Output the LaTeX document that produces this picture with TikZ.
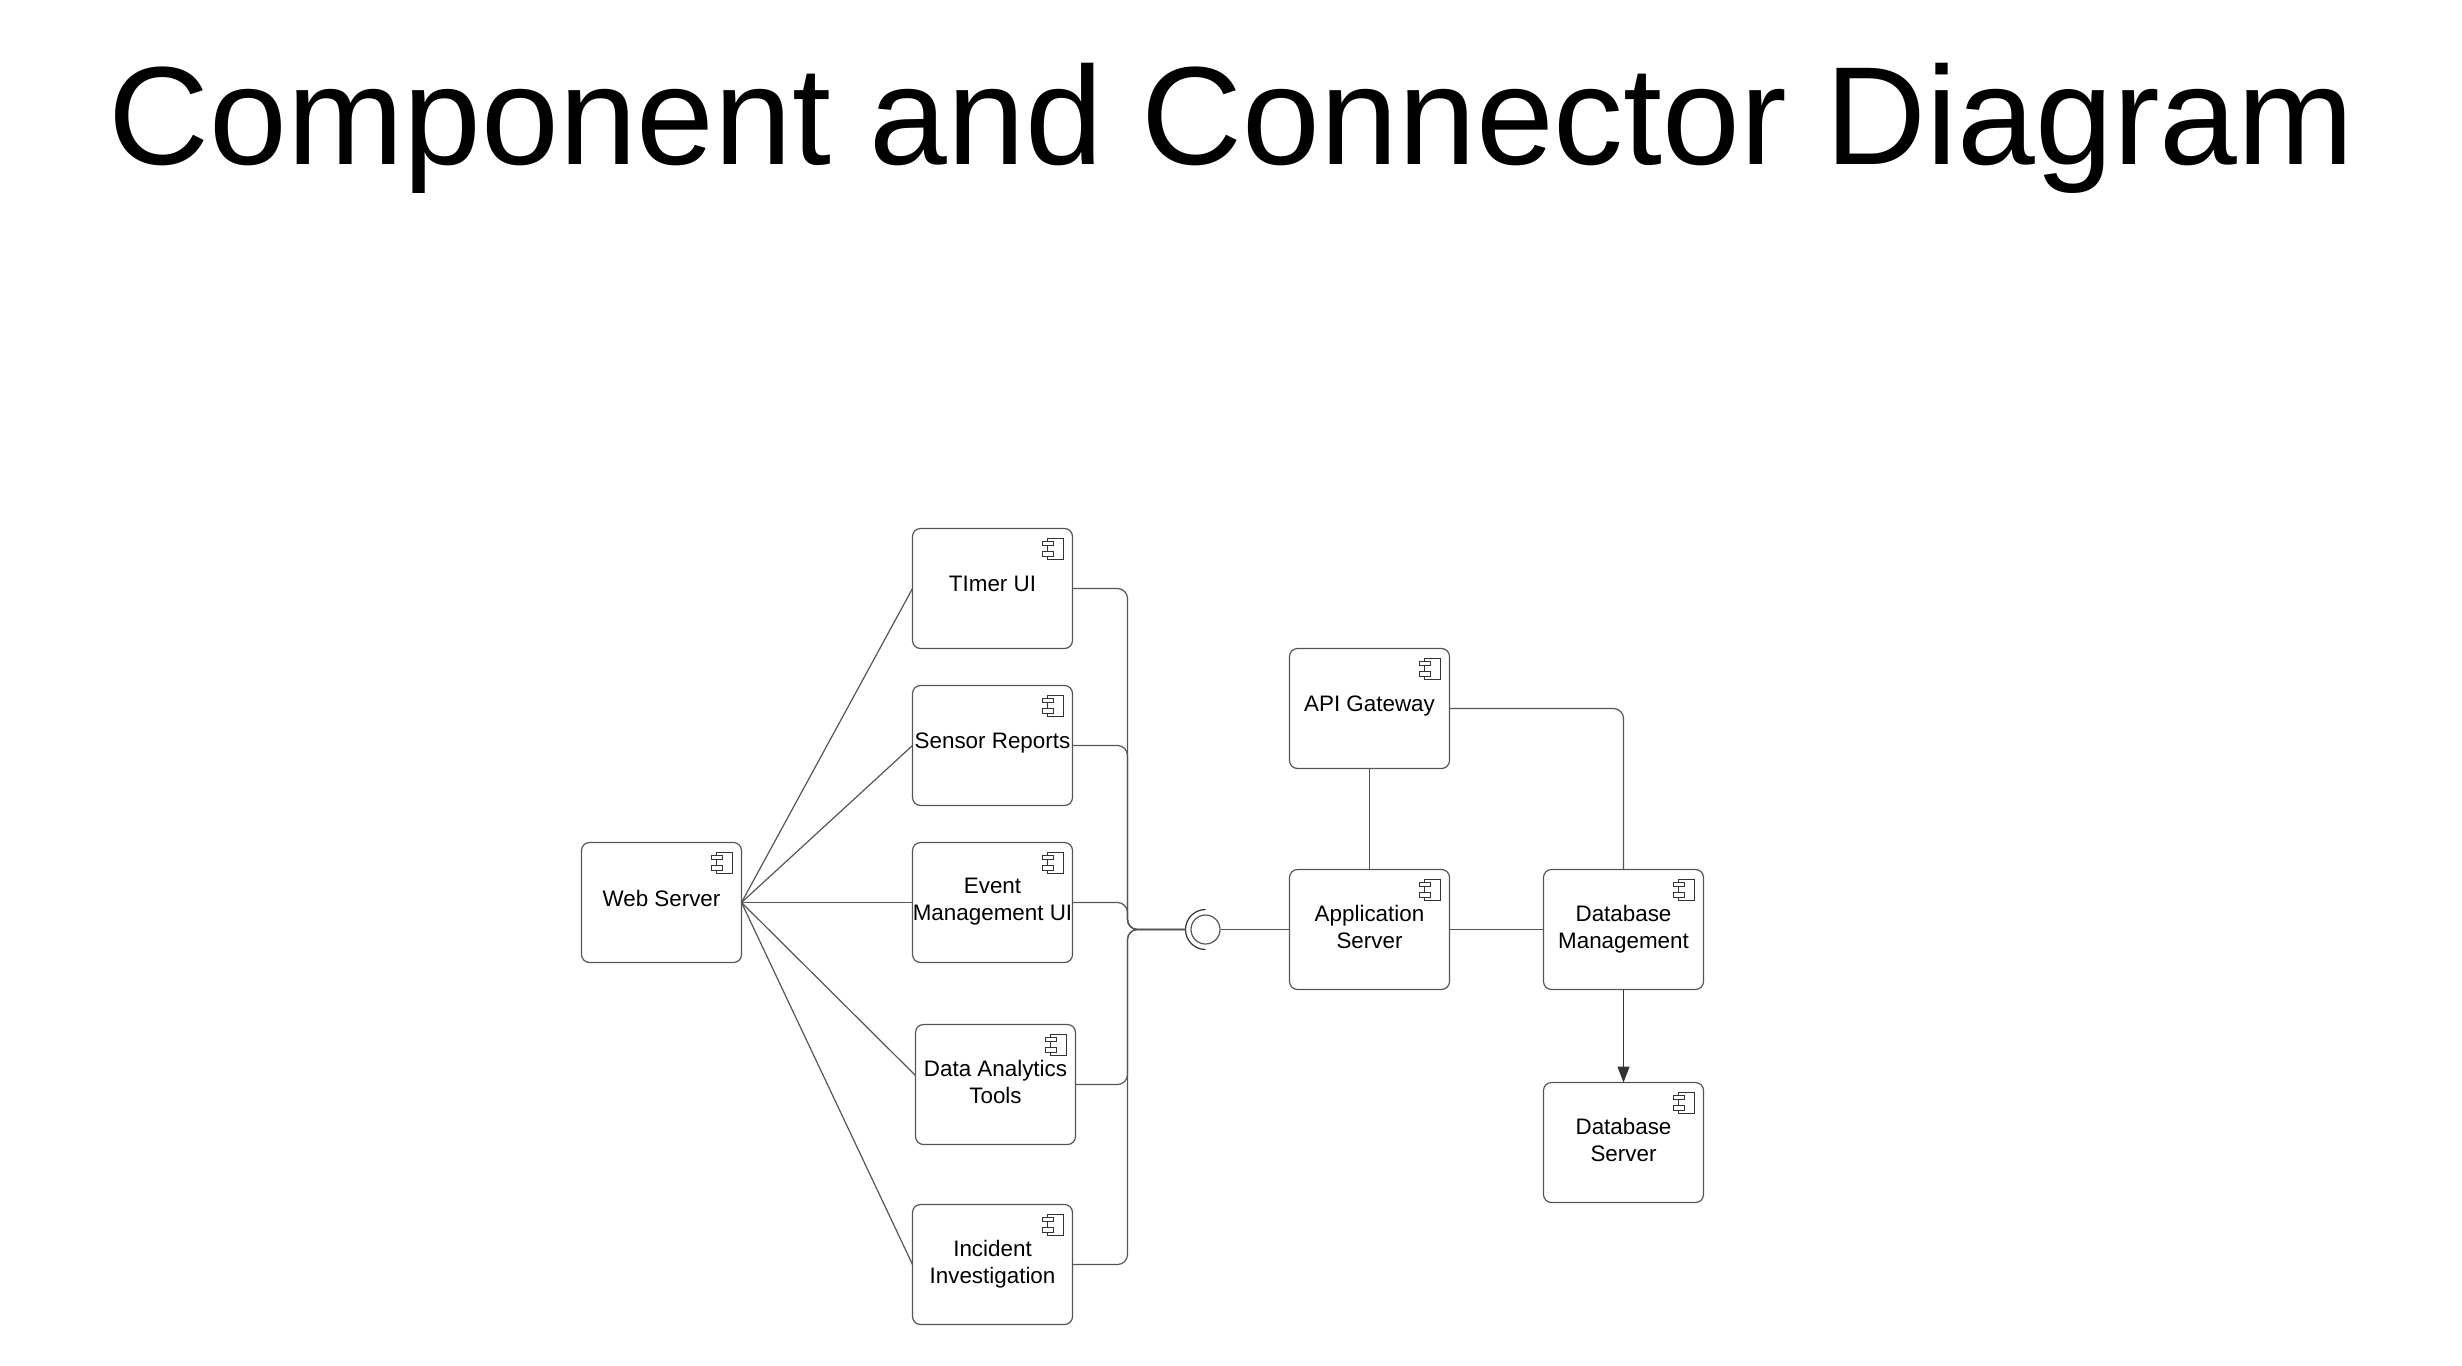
\documentclass[tikz,border=0pt]{standalone}
\usepackage{fontspec}
\setmainfont{Liberation Sans}
\usetikzlibrary{arrows.meta}
\definecolor{wire}{HTML}{555555}
\definecolor{ink}{HTML}{333333}
\begin{document}
\begin{tikzpicture}[x=.5pt,y=-.5pt]
       \useasboundingbox (0,0) rectangle (2462,1365);
       \tikzstyle{line} = [wire,line width=.6pt]
       \tikzstyle{arrow} = [line,ink,-{Triangle[width=6pt,length=8pt]}]
       \tikzset{bus/.style = {line, rounded corners=5pt}, }
       \tikzset{compicon/.style = {ink, line width=.45pt, sharp corners}, }
       \tikzset{component/.style = {rectangle, line, draw, rounded corners=4pt, align=center, inner sep=0pt, outer sep=0pt,
         minimum width=80pt, minimum height=60pt, text=black, text depth=3pt, font=\fontsize{11.2}{13.5}\selectfont,
         path picture={
           \draw[compicon] ([shift={(-25,10)}]path picture bounding box.north east) rectangle ([shift={(-9,31)}]path picture bounding box.north east);
           \draw[compicon,fill=white] ([shift={(-30,12.5)}]path picture bounding box.north east) rectangle ([shift={(-19,17)}]path picture bounding box.north east);
           \draw[compicon,fill=white] ([shift={(-30,23)}]path picture bounding box.north east) rectangle ([shift={(-19,27.5)}]path picture bounding box.north east);
         }}, }
       \tikzset{oneline/.style = {component, text depth=4.6pt}, }
       \tikzset{iface/.style = {circle, line, draw, inner sep=0pt, minimum size=14.5pt}, }

       \node[anchor=base, font=\fontsize{69.9}{80}\selectfont] (title) at (1231.5,164) {Component and Connector Diagram};

       \node[component] (event) at (992.5,902.5) {Event\\Management UI};
       \node[oneline, above of=event, node distance=78.5pt] (sensor) {Sensor Reports};
       \node[oneline, above of=sensor, node distance=78.5pt] (timer) {TImer UI};
       \node[component, below of=event, node distance=91pt, xshift=1.5pt] (analytics) {Data Analytics\\Tools};
       \node[component, below of=event, node distance=181pt] (incident) {Incident\\Investigation};
       \node[oneline, left of=event, node distance=165.5pt] (web) {Web Server};

       \node[component] (app) at (1369.5,929.5) {Application\\Server};
       \node[oneline, above of=app, node distance=110.5pt] (gateway) {API Gateway};
       \node[component, right of=app, node distance=127pt] (dbmgmt) {Database\\Management};
       \node[component, below of=dbmgmt, node distance=106.5pt] (dbserver) {Database\\Server};

       \node[iface, left of=app, node distance=82pt] (socket) {};
       \coordinate[left of=socket, node distance=10pt] (hub);
       \coordinate (bus) at (1127.5,929.5);
       \draw[line,ink] (socket) ++(90:10pt) arc[start angle=90, end angle=270, radius=10pt];

       \path[draw,line]
       (web.east) edge (timer.west)
       (web.east) edge (sensor.west)
       (web.east) edge (event.west)
       (web.east) edge ([yshift=4.5pt]analytics.west)
       (web.east) edge (incident.west)
       (socket) edge (app)
       (gateway) edge (app)
       (app) edge (dbmgmt);

       \draw[bus] (timer.east) -| (bus) -- (hub);
       \draw[bus] (sensor.east) -| (bus) -- (hub);
       \draw[bus] (event.east) -| (bus) -- (hub);
       \draw[bus] (analytics.east) -| (bus) -- (hub);
       \draw[bus] (incident.east) -| (bus) -- (hub);
       \draw[bus] (gateway.east) -| (dbmgmt.north);
       \draw[arrow] (dbmgmt) -- (dbserver);
\end{tikzpicture}
\end{document}
